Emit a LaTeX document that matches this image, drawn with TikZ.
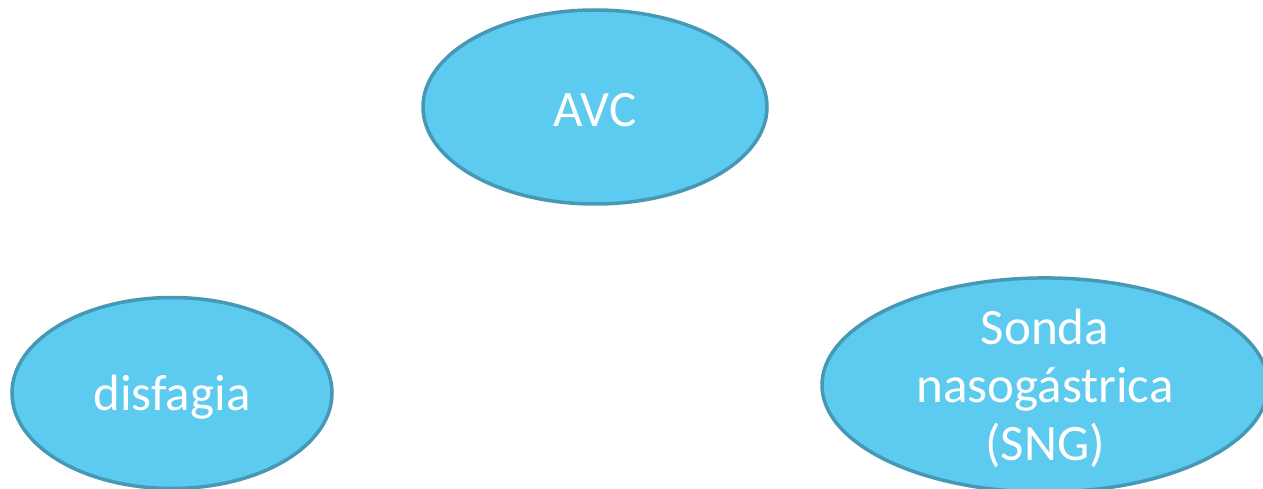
\documentclass[tikz,border=0pt]{standalone}
\usepackage{fontspec}
\setmainfont{Carlito}
\usetikzlibrary{shapes.geometric}
\definecolor{bubblefill}{HTML}{5DCAEF}
\definecolor{bubbleline}{HTML}{4599B5}
\tikzset{
    bubble/.style={ellipse, draw=bubbleline, fill=bubblefill, line width=3.5pt,
        text=white, align=center, inner sep=0pt, text depth=0pt,
        font=\fontsize{51}{58}\selectfont}
}
\begin{document}
\begin{tikzpicture}[x=1pt,y=-1pt]
    \useasboundingbox (0,0) rectangle (1263,489);
    \node[bubble, minimum width=344pt, minimum height=194pt, text height=40pt] (avc) at (595,107) {AVC};
    \node[bubble, minimum width=320pt, minimum height=191pt] (disfagia) at (172,393) {disfagia};
    \node[bubble, minimum width=446pt, minimum height=206pt] (sng) at (1045,385) {Sonda\\nasogástrica\\(SNG)};
\end{tikzpicture}
\end{document}
